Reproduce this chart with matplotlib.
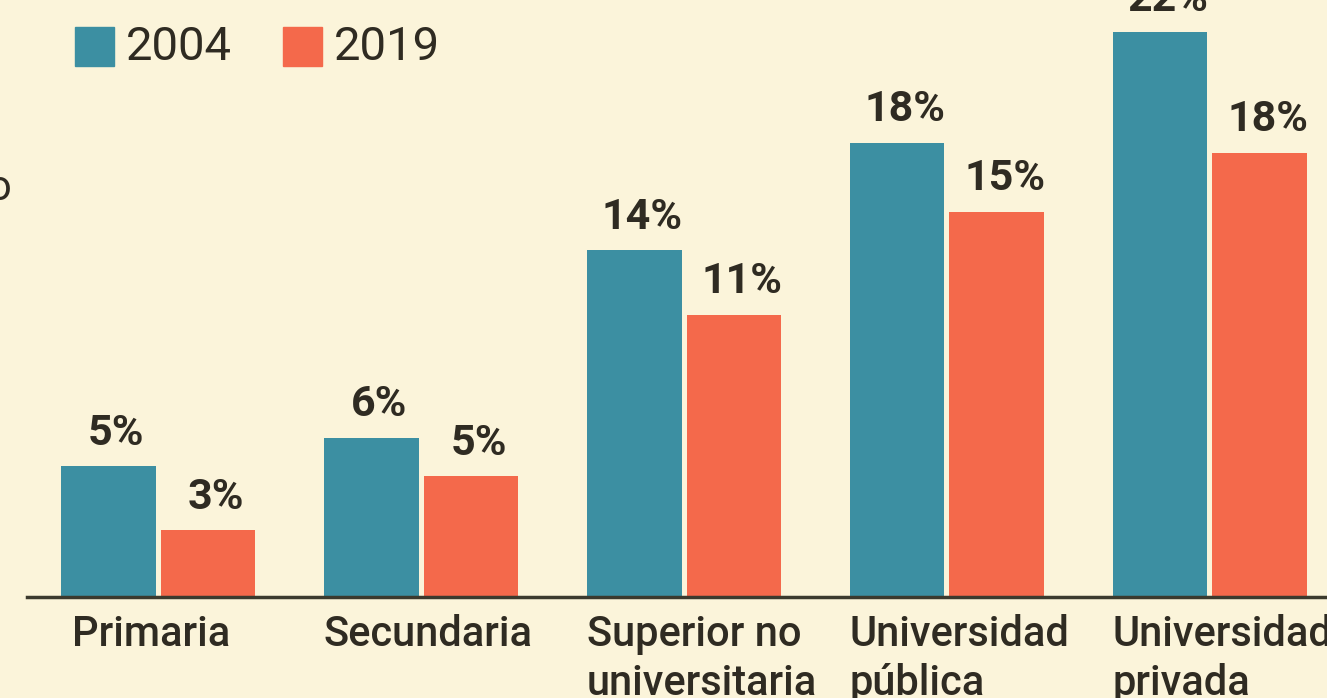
import matplotlib
matplotlib.use("Agg")
import matplotlib.pyplot as plt
import numpy as np

categories = ["Primaria", "Secundaria", "Superior no\nuniversitaria",
              "Universidad\npública", "Universidad\nprivada"]
values_2004 = [5.1, 6.2, 13.5, 17.7, 22.0]
values_2019 = [2.6, 4.7, 11.0, 15.0, 17.3]
labels_2004 = ["5%", "6%", "14%", "18%", "22%"]
labels_2019 = ["3%", "5%", "11%", "15%", "18%"]
series_names = ["2004", "2019"]

bg = "#fbf4da"
teal = "#3c8fa2"
orange = "#f4694b"
ink = "#2f2b22"

plt.rcParams["font.family"] = ["Roboto", "DejaVu Sans"]

fig = plt.figure(figsize=(13.27, 6.98), dpi=100)
fig.patch.set_facecolor(bg)
ax = fig.add_axes([0, 0, 1, 1])
ax.set_facecolor(bg)

x = np.arange(len(categories))
width = 0.361
step = 0.38

ax.bar(x - step / 2, values_2004, width, color=teal, zorder=2)
ax.bar(x + step / 2, values_2019, width, color=orange, zorder=2)

for xi, v, lab in zip(x - step / 2, values_2004, labels_2004):
    ax.annotate(lab, (xi, v), xytext=(6, 9), textcoords="offset points",
                ha="center", va="bottom", fontsize=31, fontweight="bold", color=ink)
for xi, v, lab in zip(x + step / 2, values_2019, labels_2019):
    ax.annotate(lab, (xi, v), xytext=(6, 9), textcoords="offset points",
                ha="center", va="bottom", fontsize=31, fontweight="bold", color=ink)

# baseline
ax.axhline(0, xmin=27 / 1327, xmax=1, color="#3b3a2e", lw=2.5, zorder=3)

# category labels, left aligned under the 2004 bar
for i, (xi, cat) in enumerate(zip(x - step / 2 - width / 2, categories)):
    dx = 8 if i == 0 else 0
    ax.annotate(cat, (xi, 0), xytext=(dx, -12), textcoords="offset points",
                ha="left", va="top", fontsize=30, fontweight="medium",
                color=ink, linespacing=1.25)

# legend
for (px, name, col) in [(75, series_names[0], teal), (283, series_names[1], orange)]:
    fig.patches.append(plt.Rectangle((px / 1327, 1 - 66 / 698), 39 / 1327, 39 / 698,
                                     transform=fig.transFigure, color=col))
    fig.text((px + 51) / 1327, 1 - 47 / 698, name, fontsize=34, color=ink,
             ha="left", va="center")

# cut-off letter at the left edge
fig.text(11 / 1327, 1 - 188 / 698, "o", fontsize=30, color=ink, ha="right", va="center")

ax.set_xlim(-0.601, 4.445)
ax.set_ylim(-3.93, 23.25)
ax.axis("off")

plt.savefig("out.png", dpi=100, facecolor=bg)
